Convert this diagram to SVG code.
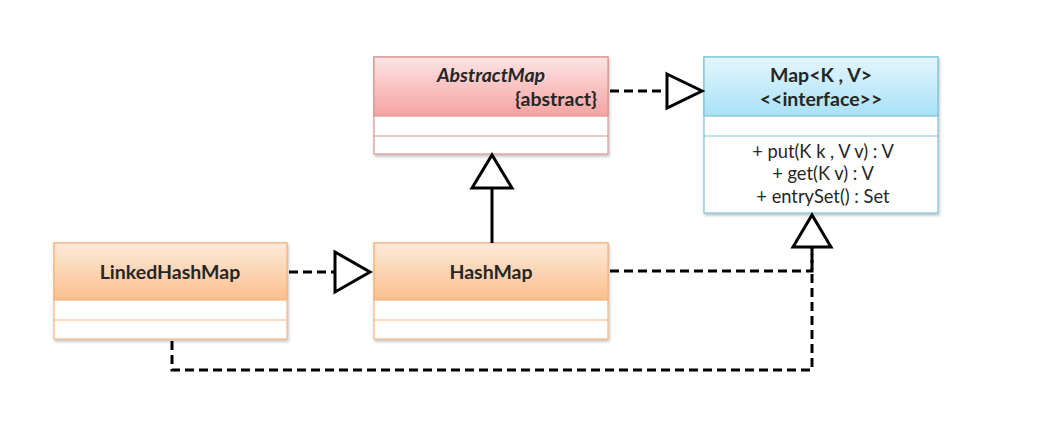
<svg xmlns="http://www.w3.org/2000/svg" width="1053" height="428" viewBox="0 0 1053 428">
<defs>
<linearGradient id="gPink" x1="0" y1="0" x2="0" y2="1"><stop offset="0" stop-color="#fde4e4"/><stop offset="1" stop-color="#f5a3a1"/></linearGradient>
<linearGradient id="gBlue" x1="0" y1="0" x2="0" y2="1"><stop offset="0" stop-color="#e4f6fd"/><stop offset="1" stop-color="#a8e1f6"/></linearGradient>
<linearGradient id="gOrange" x1="0" y1="0" x2="0" y2="1"><stop offset="0" stop-color="#fdeadb"/><stop offset="1" stop-color="#fbbf8c"/></linearGradient>
<filter id="sh" x="-5%" y="-5%" width="110%" height="115%"><feDropShadow dx="1" dy="2" stdDeviation="1.5" flood-color="#000" flood-opacity="0.25"/></filter>
</defs>
<style>
text{font-family:Lato,"Open Sans","Liberation Sans",sans-serif;fill:#262626}
.t{font-size:19.5px;font-weight:bold}
.m{font-size:18.3px}
.body{fill:#fff}
.pink{stroke:#d99594;stroke-width:1.2}
.blue{stroke:#7ec3d6;stroke-width:1.2}
.orange{stroke:#f5b47d;stroke-width:1.2}
.con{fill:none;stroke:#000;stroke-width:3}
.dash{stroke-dasharray:9,5}
.tri{fill:#fff;stroke:#000;stroke-width:3;stroke-linejoin:miter}
</style>
<g id="AbstractMap">
<rect x="374" y="57" width="234" height="97" class="body pink" filter="url(#sh)"/>
<rect x="374" y="57" width="234" height="59" fill="url(#gPink)" class="pink"/>
<line x1="374" y1="136" x2="608" y2="136" class="pink"/>
<text x="491" y="82" class="t" font-style="italic" text-anchor="middle">AbstractMap</text>
<text x="597" y="106" class="t" text-anchor="end">{abstract}</text>
</g>
<g id="Map">
<rect x="704" y="57" width="234" height="156" class="body blue" filter="url(#sh)"/>
<rect x="704" y="57" width="234" height="59" fill="url(#gBlue)" class="blue"/>
<line x1="704" y1="136" x2="938" y2="136" class="blue"/>
<text x="821" y="82" class="t" text-anchor="middle">Map&lt;K , V&gt;</text>
<text x="821" y="106" class="t" text-anchor="middle">&lt;&lt;interface&gt;&gt;</text>
<text x="823" y="158" class="m" text-anchor="middle">+ put(K k , V v) : V</text>
<text x="823" y="180" class="m" text-anchor="middle">+ get(K v) : V</text>
<text x="823" y="203" class="m" text-anchor="middle">+ entrySet() : Set</text>
</g>
<g id="LinkedHashMap">
<rect x="54" y="243" width="233" height="96" class="body orange" filter="url(#sh)"/>
<rect x="54" y="243" width="233" height="57" fill="url(#gOrange)" class="orange"/>
<line x1="54" y1="320" x2="287" y2="320" class="orange"/>
<text x="170" y="279" class="t" text-anchor="middle">LinkedHashMap</text>
</g>
<g id="HashMap">
<rect x="374" y="243" width="234" height="96" class="body orange" filter="url(#sh)"/>
<rect x="374" y="243" width="234" height="57" fill="url(#gOrange)" class="orange"/>
<line x1="374" y1="320" x2="608" y2="320" class="orange"/>
<text x="491" y="279" class="t" text-anchor="middle">HashMap</text>
</g>
<g id="connectors">
<path d="M610 91 H667" class="con dash"/>
<polygon points="667,74 702,91 667,108" class="tri"/>
<path d="M492 243 V188" class="con"/>
<polygon points="472,188 492,155 512,188" class="tri"/>
<path d="M289 272 H335" class="con dash"/>
<polygon points="335,252 370,272 335,292" class="tri"/>
<path d="M610 271 H812 V247" class="con dash"/>
<path d="M172 341 V370 H812 V247" class="con dash"/>
<polygon points="793,247 812,215 831,247" class="tri"/>
</g>
</svg>
